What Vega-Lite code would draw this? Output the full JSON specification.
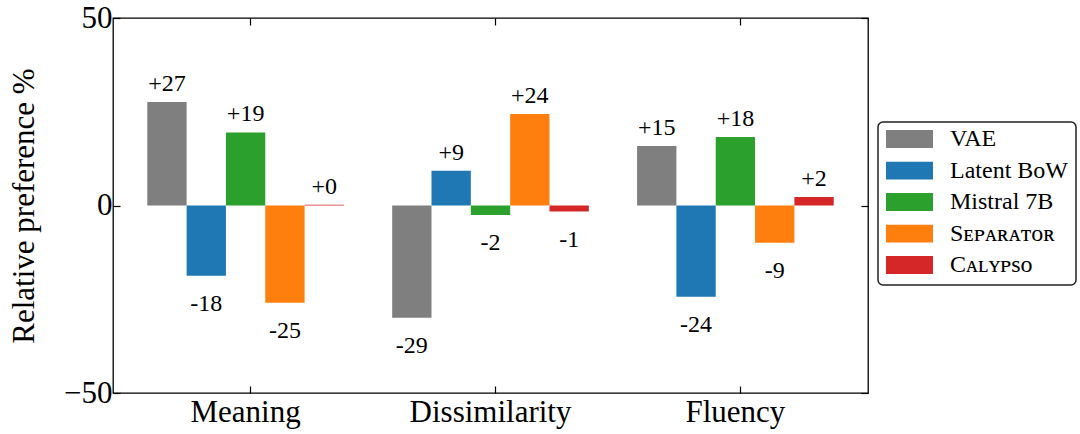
{
  "$schema": "https://vega.github.io/schema/vega-lite/v6.json",
  "width": 755,
  "height": 375,
  "autosize": {"type": "none"},
  "padding": {"left": 113, "top": 18, "right": 212, "bottom": 41},
  "background": "white",
  "config": {
    "font": "Liberation Serif, Times New Roman, Tinos, serif",
    "view": {"stroke": "black", "strokeWidth": 1.3},
    "axis": {
      "domain": false,
      "grid": false,
      "tickColor": "black",
      "tickWidth": 1.2,
      "labelColor": "black",
      "titleColor": "black",
      "labelFont": "Liberation Serif, Times New Roman, Tinos, serif",
      "titleFont": "Liberation Serif, Times New Roman, Tinos, serif",
      "titleFontWeight": "normal"
    },
    "legend": {
      "orient": "none",
      "legendX": 765,
      "legendY": 104,
      "strokeColor": "#222",
      "strokeWidth": 1.5,
      "cornerRadius": 5,
      "fillColor": "white",
      "padding": 8,
      "labelFont": "Liberation Serif, Times New Roman, Tinos, DejaVu Serif, serif",
      "labelFontSize": 24,
      "labelColor": "black",
      "labelOffset": 17,
      "symbolType": "M-1,-0.383H1V0.383H-1Z",
      "symbolSize": 2209,
      "symbolStrokeWidth": 0,
      "symbolOpacity": 1,
      "clipHeight": 18,
      "rowPadding": 7.5
    }
  },
  "data": {
    "values": [
      {"metric": "Meaning", "model": "VAE", "value": 27.6, "label": "+27"},
      {"metric": "Meaning", "model": "Latent BoW", "value": -18.7, "label": "-18"},
      {"metric": "Meaning", "model": "Mistral 7B", "value": 19.5, "label": "+19"},
      {"metric": "Meaning", "model": "Separator", "value": -25.9, "label": "-25"},
      {"metric": "Meaning", "model": "Calypso", "value": 0.2, "label": "+0"},
      {"metric": "Dissimilarity", "model": "VAE", "value": -29.9, "label": "-29"},
      {"metric": "Dissimilarity", "model": "Latent BoW", "value": 9.3, "label": "+9"},
      {"metric": "Dissimilarity", "model": "Mistral 7B", "value": -2.5, "label": "-2"},
      {"metric": "Dissimilarity", "model": "Separator", "value": 24.4, "label": "+24"},
      {"metric": "Dissimilarity", "model": "Calypso", "value": -1.6, "label": "-1"},
      {"metric": "Fluency", "model": "VAE", "value": 15.9, "label": "+15"},
      {"metric": "Fluency", "model": "Latent BoW", "value": -24.3, "label": "-24"},
      {"metric": "Fluency", "model": "Mistral 7B", "value": 18.3, "label": "+18"},
      {"metric": "Fluency", "model": "Separator", "value": -9.9, "label": "-9"},
      {"metric": "Fluency", "model": "Calypso", "value": 2.3, "label": "+2"}
    ]
  },
  "layer": [
    {
      "mark": {"type": "bar"},
      "encoding": {
        "x": {
          "field": "metric",
          "type": "nominal",
          "sort": ["Meaning", "Dissimilarity", "Fluency"],
          "scale": {"paddingInner": 0.197, "paddingOuter": 0.14},
          "axis": {
            "orient": "bottom",
            "title": null,
            "labelAngle": 0,
            "labelFontSize": 31,
            "tickSize": -7,
            "labelPadding": 11,
            "bandPosition": 0.525
          }
        },
        "xOffset": {
          "field": "model",
          "type": "nominal",
          "sort": ["VAE", "Latent BoW", "Mistral 7B", "Separator", "Calypso"],
          "scale": {"paddingInner": 0, "paddingOuter": 0}
        },
        "y": {
          "field": "value",
          "type": "quantitative",
          "scale": {"domain": [-50, 50], "nice": false},
          "axis": {
            "values": [-50, 0, 50],
            "title": "Relative preference %",
            "titleFontSize": 31,
            "titlePadding": 23,
            "labelFontSize": 31,
            "tickSize": -7,
            "labelPadding": 8
          }
        },
        "color": {
          "field": "model",
          "type": "nominal",
          "sort": ["VAE", "Latent BoW", "Mistral 7B", "Separator", "Calypso"],
          "scale": {
            "domain": ["VAE", "Latent BoW", "Mistral 7B", "Separator", "Calypso"],
            "range": ["#7f7f7f", "#1f77b4", "#2ca02c", "#ff7f0e", "#d62728"]
          },
          "legend": {
            "title": null,
            "labelExpr": "datum.label == 'Separator' ? 'Sᴇᴘᴀʀᴀᴛᴏʀ' : datum.label == 'Calypso' ? 'Cᴀʟʏᴘsᴏ' : datum.label"
          }
        }
      }
    },
    {
      "transform": [{"filter": "datum.value >= 0"}],
      "mark": {"type": "text", "baseline": "alphabetic", "dy": -11, "fontSize": 24, "color": "black", "font": "Liberation Serif, Times New Roman, Tinos, serif"},
      "encoding": {
        "x": {"field": "metric", "type": "nominal", "sort": ["Meaning", "Dissimilarity", "Fluency"], "axis": null},
        "xOffset": {"field": "model", "type": "nominal", "sort": ["VAE", "Latent BoW", "Mistral 7B", "Separator", "Calypso"]},
        "y": {"field": "value", "type": "quantitative", "axis": null},
        "text": {"field": "label"}
      }
    },
    {
      "transform": [{"filter": "datum.value < 0"}],
      "mark": {"type": "text", "baseline": "alphabetic", "dy": 35, "fontSize": 24, "color": "black", "font": "Liberation Serif, Times New Roman, Tinos, serif"},
      "encoding": {
        "x": {"field": "metric", "type": "nominal", "sort": ["Meaning", "Dissimilarity", "Fluency"], "axis": null},
        "xOffset": {"field": "model", "type": "nominal", "sort": ["VAE", "Latent BoW", "Mistral 7B", "Separator", "Calypso"]},
        "y": {"field": "value", "type": "quantitative", "axis": null},
        "text": {"field": "label"}
      }
    },
    {
      "mark": {"type": "point", "opacity": 0},
      "encoding": {
        "x": {
          "field": "metric",
          "type": "nominal",
          "sort": ["Meaning", "Dissimilarity", "Fluency"],
          "axis": {"orient": "top", "labels": false, "title": null, "tickSize": -7, "bandPosition": 0.525}
        },
        "y": {
          "field": "value",
          "type": "quantitative",
          "axis": {"orient": "right", "labels": false, "title": null, "values": [-50, 0, 50], "tickSize": -7}
        }
      }
    }
  ],
  "resolve": {"axis": {"x": "independent", "y": "independent"}}
}
